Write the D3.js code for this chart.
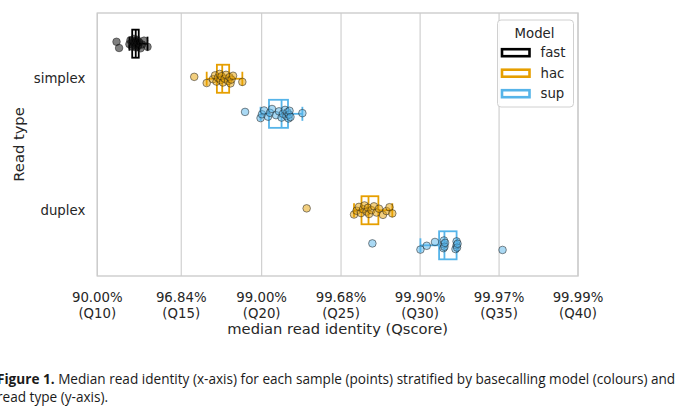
<!DOCTYPE html>
<html>
<head>
<meta charset="utf-8">
<script src="https://cdn.jsdelivr.net/npm/d3@7"></script>
<style>
  body { margin: 0; background: #fff; }
  svg { display: block; }
  .mpl { font-family: "DejaVu Sans", "Liberation Sans", sans-serif; font-size: 13.3px; fill: #262626; }
  .mpl.label { font-size: 14.7px; }
  .caption { font-family: "Open Sans", sans-serif; font-size: 13.6px; fill: #1a1a1a; }
</style>
</head>
<body>
<div id="chart"></div>
<script>
/** DATA */
// median Qscore per sample
const readTypes = ["simplex", "duplex"];
const models = ["fast", "hac", "sup"];
const modelColors = ["#000000", "#E69F00", "#56B4E9"];

const fastSimplexQ = [11.11, 11.26, 11.87, 11.93, 12.02, 12.08, 12.14, 12.20, 12.23,
  12.26, 12.29, 12.32, 12.38, 12.44, 12.53, 12.62, 12.74, 12.95];
const hacSimplexQ = [15.80, 16.57, 16.96, 17.09, 17.18, 17.27, 17.37, 17.43, 17.49,
  17.58, 17.68, 17.77, 17.90, 17.99, 18.05, 18.11, 18.21, 18.79];
const supSimplexQ = [18.96, 19.93, 20.02, 20.15, 20.40, 20.52, 20.65, 20.90, 21.09,
  21.25, 21.34, 21.47, 21.56, 21.62, 21.69, 21.72, 21.75, 21.81, 22.56];
const hacDuplexQ = [22.83, 25.82, 25.98, 26.13, 26.26, 26.39, 26.48, 26.61, 26.70,
  26.77, 26.92, 27.08, 27.24, 27.40, 27.65, 27.87, 28.06, 28.24];
const supDuplexQ = [26.98, 30.02, 30.42, 30.94, 31.48, 31.51, 31.51, 31.54, 31.58,
  32.24, 32.31, 32.31, 32.34, 32.37, 35.22];

const tickQ = [10, 15, 20, 25, 30, 35, 40];
const tickIdentity = ["90.00%", "96.84%", "99.00%", "99.68%", "99.90%", "99.97%", "99.99%"];
const tickQLabels = ["(Q10)", "(Q15)", "(Q20)", "(Q25)", "(Q30)", "(Q35)", "(Q40)"];

const groups = [
  { type: "simplex", model: "fast", q: fastSimplexQ },
  { type: "simplex", model: "hac", q: hacSimplexQ },
  { type: "simplex", model: "sup", q: supSimplexQ },
  { type: "duplex", model: "hac", q: hacDuplexQ },
  { type: "duplex", model: "sup", q: supDuplexQ }
];

/** CONSTANTS */
const width = 680, height = 411,
  margin = { top: 13, right: 102, bottom: 135, left: 97.3 },
  gridColor = "#cccccc";

const qToIdentity = q => 1 - Math.pow(10, -q / 10);
const logit = p => Math.log(p / (1 - p));

/** SCALES */
// the x axis is a logit scale of read identity
const xLogit = d3.scaleLinear()
  .domain([logit(qToIdentity(10)), logit(qToIdentity(40))])
  .range([margin.left, width - margin.right]);
const xScale = p => xLogit(logit(p));

const yScale = d3.scaleBand()
  .domain(readTypes)
  .range([margin.top, height - margin.bottom]);

const hueScale = d3.scaleBand()
  .domain(models)
  .range([-0.4 * yScale.step(), 0.4 * yScale.step()]);

const color = d3.scaleOrdinal().domain(models).range(modelColors);

const boxH = hueScale.bandwidth() * 0.8;
const yCenter = g => yScale(g.type) + yScale.bandwidth() / 2 + hueScale(g.model) + hueScale.bandwidth() / 2;

// box stats on identity values, 1.5 IQR whiskers
groups.forEach(g => {
  const v = g.q.map(qToIdentity).sort(d3.ascending);
  const q1 = d3.quantile(v, 0.25), med = d3.quantile(v, 0.5), q3 = d3.quantile(v, 0.75);
  const iqr = q3 - q1;
  const lo = d3.min(v.filter(d => d >= q1 - 1.5 * iqr));
  const hi = d3.max(v.filter(d => d <= q3 + 1.5 * iqr));
  g.stats = { q1, med, q3, lo, hi };
  g.points = g.q.map((q, i) => ({ p: qToIdentity(q), i }));
});

/** DRAWING ELEMENTS */
const svg = d3.select("#chart")
  .append("svg")
  .attr("width", width)
  .attr("height", height);

// vertical grid
svg.append("g")
  .selectAll("line")
  .data(tickQ)
  .join("line")
  .attr("x1", d => xScale(qToIdentity(d)))
  .attr("x2", d => xScale(qToIdentity(d)))
  .attr("y1", margin.top)
  .attr("y2", height - margin.bottom)
  .attr("stroke", gridColor)
  .attr("stroke-width", 1.1);

// frame
svg.append("rect")
  .attr("x", margin.left)
  .attr("y", margin.top)
  .attr("width", width - margin.left - margin.right)
  .attr("height", height - margin.top - margin.bottom)
  .attr("fill", "none")
  .attr("stroke", gridColor)
  .attr("stroke-width", 1.4);

// boxes
const box = svg.append("g")
  .selectAll("g")
  .data(groups)
  .join("g")
  .attr("stroke", d => color(d.model))
  .attr("stroke-width", 1.8)
  .attr("fill", "none");

box.append("rect")
  .attr("x", d => xScale(d.stats.q1))
  .attr("y", d => yCenter(d) - boxH / 2)
  .attr("width", d => xScale(d.stats.q3) - xScale(d.stats.q1))
  .attr("height", boxH);

box.append("line")
  .attr("x1", d => xScale(d.stats.med))
  .attr("x2", d => xScale(d.stats.med))
  .attr("y1", d => yCenter(d) - boxH / 2)
  .attr("y2", d => yCenter(d) + boxH / 2);

box.append("line")
  .attr("x1", d => xScale(d.stats.lo))
  .attr("x2", d => xScale(d.stats.q1))
  .attr("y1", d => yCenter(d))
  .attr("y2", d => yCenter(d));

box.append("line")
  .attr("x1", d => xScale(d.stats.q3))
  .attr("x2", d => xScale(d.stats.hi))
  .attr("y1", d => yCenter(d))
  .attr("y2", d => yCenter(d));

box.selectAll(".cap")
  .data(d => [d.stats.lo, d.stats.hi].map(p => ({ p, g: d })))
  .join("line")
  .attr("class", "cap")
  .attr("x1", d => xScale(d.p))
  .attr("x2", d => xScale(d.p))
  .attr("y1", d => yCenter(d.g) - boxH / 4)
  .attr("y2", d => yCenter(d.g) + boxH / 4);

// strip points, deterministic jitter
const jitter = i => (((i * 0.618034 + 0.31) % 1) * 2 - 1) * 5;

svg.append("g")
  .selectAll("g")
  .data(groups)
  .join("g")
  .selectAll("circle")
  .data(d => d.points.map(pt => ({ ...pt, g: d })))
  .join("circle")
  .attr("cx", d => xScale(d.p))
  .attr("cy", d => yCenter(d.g) + jitter(d.i))
  .attr("r", 3.8)
  .attr("fill", d => color(d.g.model))
  .attr("fill-opacity", 0.5)
  .attr("stroke", "#1a1a1a")
  .attr("stroke-opacity", 0.5)
  .attr("stroke-width", 1);

// x tick labels
const xTicks = svg.append("g")
  .attr("text-anchor", "middle")
  .selectAll("text")
  .data(tickQ)
  .join("text")
  .attr("class", "mpl")
  .attr("x", d => xScale(qToIdentity(d)))
  .attr("y", 302);

xTicks.append("tspan").text((d, i) => tickIdentity[i]);
xTicks.append("tspan")
  .attr("x", d => xScale(qToIdentity(d)))
  .attr("dy", 16)
  .text((d, i) => tickQLabels[i]);

svg.append("text")
  .attr("class", "mpl label")
  .attr("x", (margin.left + width - margin.right) / 2)
  .attr("y", 334)
  .attr("text-anchor", "middle")
  .text("median read identity (Qscore)");

// y tick labels
svg.append("g")
  .selectAll("text")
  .data(readTypes)
  .join("text")
  .attr("class", "mpl")
  .attr("x", margin.left - 12)
  .attr("y", d => yScale(d) + yScale.bandwidth() / 2)
  .attr("dy", "0.32em")
  .attr("text-anchor", "end")
  .text(d => d);

svg.append("text")
  .attr("class", "mpl label")
  .attr("transform", `translate(24, ${(margin.top + height - margin.bottom) / 2}) rotate(-90)`)
  .attr("text-anchor", "middle")
  .text("Read type");

// legend
const legend = svg.append("g").attr("transform", "translate(497.5, 20)");

legend.append("rect")
  .attr("width", 76)
  .attr("height", 87)
  .attr("rx", 3.5)
  .attr("fill", "#fff")
  .attr("fill-opacity", 0.85)
  .attr("stroke", "#d0d0d0")
  .attr("stroke-width", 1);

legend.append("text")
  .attr("class", "mpl")
  .attr("x", 37)
  .attr("y", 17.5)
  .attr("text-anchor", "middle")
  .text("Model");

const item = legend.selectAll(".item")
  .data(models)
  .join("g")
  .attr("class", "item")
  .attr("transform", (d, i) => `translate(0, ${32.7 + i * 20.5})`);

item.append("rect")
  .attr("x", 4.5)
  .attr("y", -3.5)
  .attr("width", 27.5)
  .attr("height", 7)
  .attr("fill", "#fff")
  .attr("stroke", d => color(d))
  .attr("stroke-width", 2.6);

item.append("text")
  .attr("class", "mpl")
  .attr("x", 43)
  .attr("dy", "0.35em")
  .text(d => d);

// caption
const line1 = svg.append("text").attr("class", "caption").attr("x", -3).attr("y", 384);
line1.append("tspan").attr("font-weight", "bold").text("Figure 1.");
line1.append("tspan").text(" Median read identity (x-axis) for each sample (points) stratified by basecalling model (colours) and");

svg.append("text")
  .attr("class", "caption")
  .attr("x", -3)
  .attr("y", 402)
  .text("read type (y-axis).");
</script>
</body>
</html>
